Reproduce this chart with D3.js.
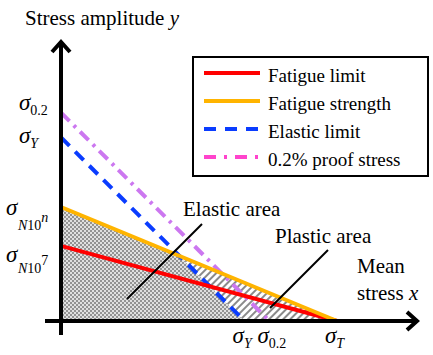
<!DOCTYPE html>
<html>
<head>
<meta charset="utf-8">
<script src="https://cdn.jsdelivr.net/npm/d3@7"></script>
<style>
  body { margin: 0; background: #fff; }
</style>
</head>
<body>
<div id="chart"></div>
<script>
// values in normalised stress units (sigma_T = 1)
var lineNames = ["Fatigue limit", "Fatigue strength", "Elastic limit", "0.2% proof stress"];
var yIntercepts = [0.272, 0.413, 0.665, 0.755];   // on stress amplitude axis
var xIntercepts = [1.0, 1.0, 0.665, 0.755];       // on mean stress axis
var lineColors = ["#ff0000", "#ffb400", "#0a3cff", "#cc77f0"];
var legendColors = ["#ff0000", "#ffb400", "#0a3cff", "#ff44cc"];
var xTickVals = [0.665, 0.755, 1.0];
var xTickSubs = ["Y", "0.2", "T"];

var W = 433, H = 355;
var FONT = "'Liberation Serif', 'Times New Roman', serif";

var x = d3.scaleLinear().domain([0, 1]).range([61, 337]);
var y = d3.scaleLinear().domain([0, 1]).range([321, 45]);

var svg = d3.select("#chart").append("svg")
    .attr("width", W)
    .attr("height", H);

var defs = svg.append("defs");

// checker pattern for elastic area
var chk = defs.append("pattern")
    .attr("id", "checker")
    .attr("width", 4).attr("height", 4)
    .attr("patternUnits", "userSpaceOnUse");
chk.append("rect").attr("width", 4).attr("height", 4).attr("fill", "#e0e0e0");
chk.append("rect").attr("width", 2).attr("height", 2).attr("fill", "#939393");
chk.append("rect").attr("x", 2).attr("y", 2).attr("width", 2).attr("height", 2).attr("fill", "#939393");

// diagonal hatch for plastic area
var hat = defs.append("pattern")
    .attr("id", "hatch")
    .attr("width", 5).attr("height", 5)
    .attr("patternUnits", "userSpaceOnUse")
    .attr("patternTransform", "rotate(45)");
hat.append("rect").attr("width", 5).attr("height", 5).attr("fill", "#fff");
hat.append("rect").attr("width", 2).attr("height", 5).attr("fill", "#8a8a8a");

// intersection of fatigue strength line and elastic limit line
var a = yIntercepts[1], s = yIntercepts[2];
var ix = (s - a) / (1 - a);
var iy = s - ix;

var poly = d3.line().x(function(d) { return x(d[0]); }).y(function(d) { return y(d[1]); });

svg.append("path")
    .attr("d", poly([[0, 0], [0, a], [ix, iy], [xIntercepts[2], 0]]) + "Z")
    .attr("fill", "url(#checker)");

svg.append("path")
    .attr("d", poly([[ix, iy], [xIntercepts[1], 0], [xIntercepts[2], 0]]) + "Z")
    .attr("fill", "url(#hatch)");

// limit lines
var dashes = [null, null, "12,8", "12,6,3,6"];
var drawOrder = [2, 3, 0, 1];
drawOrder.forEach(function(i) {
    svg.append("path")
        .attr("d", poly([[0, yIntercepts[i]], [xIntercepts[i], 0]]))
        .attr("stroke", lineColors[i])
        .attr("stroke-width", 4)
        .attr("fill", "none")
        .attr("stroke-dasharray", dashes[i]);
});

// axes with arrows
svg.append("line")
    .attr("x1", x(0)).attr("y1", 335).attr("x2", x(0)).attr("y2", 42)
    .attr("stroke", "#000").attr("stroke-width", 4);
svg.append("polyline")
    .attr("points", [[x(0) - 9, 52], [x(0), 42], [x(0) + 9, 52]].join(" "))
    .attr("stroke", "#000").attr("stroke-width", 4).attr("fill", "none");

svg.append("line")
    .attr("x1", 45).attr("y1", y(0)).attr("x2", 416).attr("y2", y(0))
    .attr("stroke", "#000").attr("stroke-width", 4);
svg.append("polyline")
    .attr("points", [[407, y(0) - 9], [417, y(0)], [407, y(0) + 9]].join(" "))
    .attr("stroke", "#000").attr("stroke-width", 4).attr("fill", "none");

function txt(px, py, size) {
    return svg.append("text").attr("x", px).attr("y", py)
        .style("font-family", FONT, "important")
        .style("font-size", size + "px");
}
function ts(t, str, italic) {
    var el = t.append("tspan").text(str).style("font-family", FONT, "important");
    if (italic) el.style("font-style", "italic");
    return el;
}

// axis titles
var t1 = txt(25, 25, 21);
ts(t1, "Stress amplitude ", false);
ts(t1, "y", true);
txt(357, 273, 21).text("Mean");
var t2 = txt(357, 300, 21);
ts(t2, "stress ", false);
ts(t2, "x", true);

// sigma labels
function sigma(px, py, sub, subItalic) {
    var t = txt(px, py, 23);
    ts(t, "\u03c3", true);
    if (sub) ts(t, sub, subItalic).attr("dy", 5).style("font-size", "14px");
    return t;
}
function nsub(px, py, sup) {
    var t = txt(px, py, 14);
    ts(t, "N", true);
    ts(t, "10", false);
    ts(t, sup, sup === "n").attr("dy", -8);
}
// y axis labels
sigma(19, 110, "0.2", false);
sigma(19, 143, "Y", true);
sigma(6, 215, "", false);
nsub(18, 230, "n");
sigma(6, 262, "", false);
nsub(18, 273, "7");

// x axis labels
xTickVals.forEach(function(v, i) {
    sigma(x(v) - 12, 343, xTickSubs[i], xTickSubs[i] !== "0.2");
});

// area annotations
txt(183, 216, 21).text("Elastic area");
svg.append("line").attr("x1", 202).attr("y1", 224).attr("x2", 127).attr("y2", 299)
    .attr("stroke", "#000").attr("stroke-width", 2);
txt(275, 243, 21).text("Plastic area");
svg.append("line").attr("x1", 328).attr("y1", 250).attr("x2", 270).attr("y2", 308)
    .attr("stroke", "#000").attr("stroke-width", 2);

// legend
svg.append("rect")
    .attr("x", 193).attr("y", 57).attr("width", 235).attr("height", 119)
    .attr("fill", "#fff").attr("stroke", "#000").attr("stroke-width", 2);
var legendDash = [null, null, "12,9", "12,8,3,8"];
lineNames.forEach(function(name, i) {
    var ly = 73 + i * 28;
    svg.append("line")
        .attr("x1", 204).attr("y1", ly).attr("x2", 260).attr("y2", ly)
        .attr("stroke", legendColors[i])
        .attr("stroke-width", 4)
        .attr("stroke-dasharray", legendDash[i]);
    txt(268, ly + 9, 19).text(name);
});
</script>
</body>
</html>
